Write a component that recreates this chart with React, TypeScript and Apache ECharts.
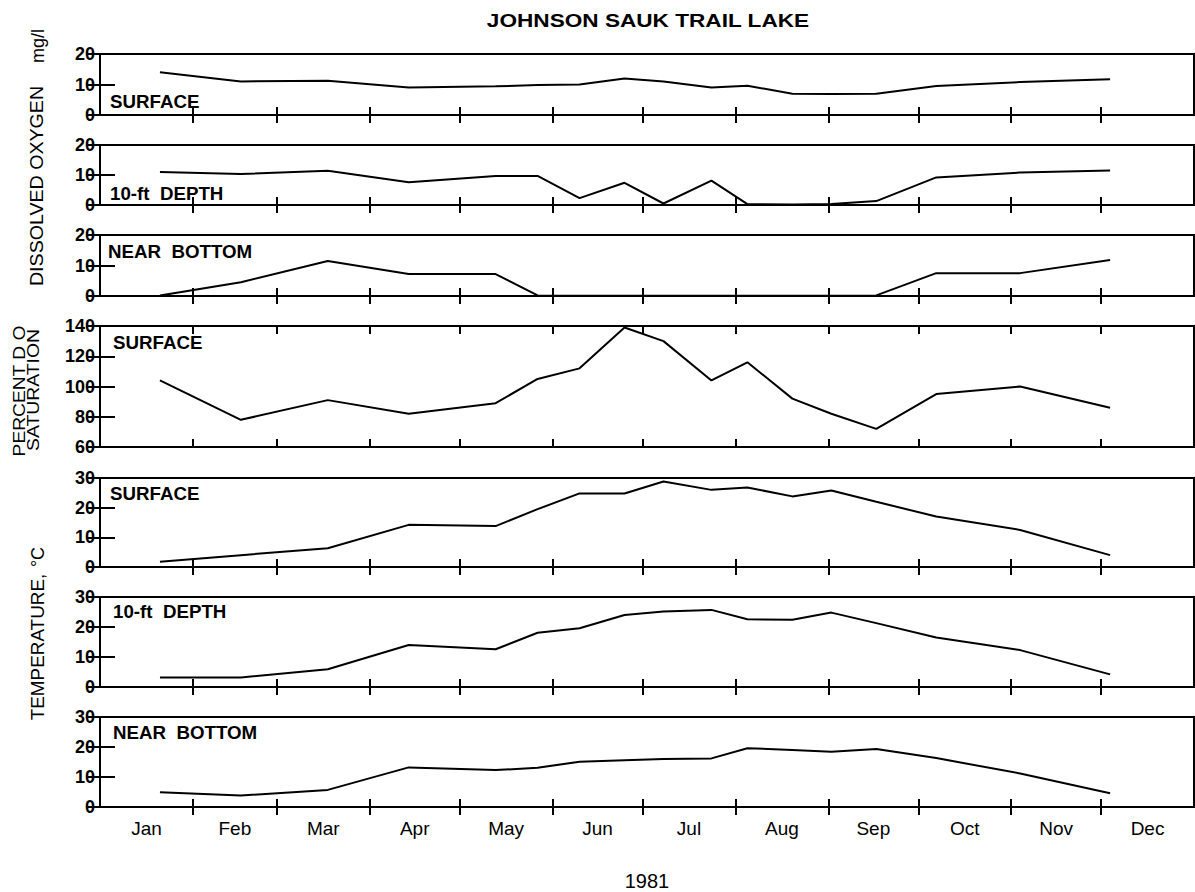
import React, { useEffect, useRef } from "react";
import * as echarts from "echarts";

// ---- Time axis (day of year, 1981) ----
const MONTHS = ["Jan", "Feb", "Mar", "Apr", "May", "Jun", "Jul", "Aug", "Sep", "Oct", "Nov", "Dec"];
const MONTH_START_DAYS = [31, 59, 90, 120, 151, 181, 212, 243, 273, 304, 334];
const MONTH_MID_DAYS = [15.5, 45, 74.5, 105, 135.5, 166, 196.5, 227.5, 258, 288.5, 319, 349.5];

// Sampling dates (day of year)
const SAMPLE_DAYS = [20, 47, 76, 103, 132, 146, 160, 175, 188, 204, 216, 231, 244, 259, 279, 307, 337];

// Dissolved oxygen, mg/l
const DO_SURFACE = [14, 11, 11.2, 9, 9.4, 9.8, 10, 12, 11, 9, 9.6, 7, 6.9, 7, 9.5, 10.8, 11.7];
const DO_10FT = [11, 10.3, 11.4, 7.6, 9.7, 9.7, 2.3, 7.4, 0.5, 8.1, 0.3, 0.2, 0.3, 1.3, 9.2, 10.8, 11.5];
const DO_BOTTOM = [0.2, 4.5, 11.5, 7.2, 7.2, 0.2, 0.1, 0.1, 0.1, 0.1, 0.1, 0.1, 0.1, 0.2, 7.5, 7.5, 11.8];

// Percent DO saturation, surface
const SAT_SURFACE = [104, 78, 91, 82, 89, 105, 112, 139, 130, 104, 116, 92, 82, 72, 95, 100, 86];

// Temperature, deg C
const TEMP_SURFACE = [1.8, 4, 6.3, 14.2, 13.8, 19.5, 24.8, 24.8, 28.8, 26, 26.8, 23.8, 25.8, 22, 17, 12.5, 4];
const TEMP_10FT = [3.2, 3.2, 5.9, 14, 12.6, 18.1, 19.6, 24, 25.2, 25.7, 22.6, 22.4, 24.8, 21.3, 16.5, 12.3, 4.2];
const TEMP_BOTTOM = [4.9, 3.8, 5.7, 13.2, 12.3, 13.1, 15.1, 15.6, 16, 16.2, 19.6, 19, 18.4, 19.3, 16.3, 11.2, 4.6];

const FONT = "'Liberation Sans', Arial, Helvetica, sans-serif";

type Panel = {
  label: string;
  values: number[];
  min: number;
  max: number;
  interval: number;
  top: number;
  height: number;
  labelX: number;
  labelY: number;
};

const PANELS: Panel[] = [
  { label: "SURFACE", values: DO_SURFACE, min: 0, max: 20, interval: 10, top: 54, height: 61, labelX: 110, labelY: 102 },
  { label: "10-ft  DEPTH", values: DO_10FT, min: 0, max: 20, interval: 10, top: 145, height: 60, labelX: 110, labelY: 194 },
  { label: "NEAR  BOTTOM", values: DO_BOTTOM, min: 0, max: 20, interval: 10, top: 235, height: 61, labelX: 108, labelY: 252 },
  { label: "SURFACE", values: SAT_SURFACE, min: 60, max: 140, interval: 20, top: 326, height: 121, labelX: 113, labelY: 343 },
  { label: "SURFACE", values: TEMP_SURFACE, min: 0, max: 30, interval: 10, top: 478, height: 89, labelX: 110, labelY: 494 },
  { label: "10-ft  DEPTH", values: TEMP_10FT, min: 0, max: 30, interval: 10, top: 597, height: 90, labelX: 113, labelY: 612 },
  { label: "NEAR  BOTTOM", values: TEMP_BOTTOM, min: 0, max: 30, interval: 10, top: 717, height: 90, labelX: 113, labelY: 733 },
];

function txt(
  text: string,
  x: number,
  y: number,
  fontSize: number,
  opts: { rotation?: number; scaleX?: number; align?: string; bold?: boolean } = {}
) {
  const align = opts.align || "center";
  return {
    type: "text",
    x,
    y,
    rotation: opts.rotation || 0,
    scaleX: opts.scaleX || 1,
    silent: true,
    style: {
      text,
      fontSize,
      fontFamily: FONT,
      fontWeight: opts.bold ? "bold" : "normal",
      fill: "#000",
      align,
      textAlign: align,
      verticalAlign: "middle",
      textVerticalAlign: "middle",
    },
  };
}

function buildOption() {
  const grids: any[] = [];
  const xAxes: any[] = [];
  const yAxes: any[] = [];
  const series: any[] = [];
  const last = PANELS.length - 1;

  const tickStyle = { color: "#000", width: 2 };

  PANELS.forEach((p, i) => {
    grids.push({
      left: 100,
      right: 1,
      top: p.top,
      height: p.height,
      show: true,
      borderColor: "#000",
      borderWidth: 2,
      backgroundColor: "transparent",
    });

    const baseX = {
      type: "value",
      gridIndex: i,
      min: 0,
      max: 365,
      axisLine: { show: false },
      splitLine: { show: false },
      axisTick: { show: true, inside: true, length: 8, customValues: MONTH_START_DAYS, lineStyle: tickStyle },
    };
    xAxes.push({
      ...baseX,
      position: "bottom",
      axisLabel:
        i === last
          ? {
              show: true,
              customValues: MONTH_MID_DAYS,
              formatter: (v: number) => MONTHS[MONTH_MID_DAYS.indexOf(v)] || "",
              fontSize: 19,
              fontFamily: FONT,
              color: "#000",
              margin: 12,
            }
          : { show: false },
    });
    xAxes.push({ ...baseX, position: "top", axisLabel: { show: false } });

    const baseY = {
      type: "value",
      gridIndex: i,
      min: p.min,
      max: p.max,
      interval: p.interval,
      axisLine: { show: false },
      splitLine: { show: false },
    };
    yAxes.push({
      ...baseY,
      position: "left",
      axisTick: { show: true, inside: true, length: 15, lineStyle: tickStyle },
      axisLabel: { show: true, fontSize: 18, fontFamily: FONT, fontWeight: "bold", color: "#000", margin: 5 },
    });
    yAxes.push({
      ...baseY,
      position: "right",
      axisTick: { show: true, inside: true, length: 12, lineStyle: tickStyle },
      axisLabel: { show: false },
    });

    series.push({
      type: "line",
      xAxisIndex: 2 * i,
      yAxisIndex: 2 * i,
      data: SAMPLE_DAYS.map((d, k) => [d, p.values[k]]),
      showSymbol: false,
      symbol: "none",
      silent: true,
      lineStyle: { color: "#000", width: 2 },
    });
  });

  const graphics: any[] = [
    txt("JOHNSON SAUK TRAIL LAKE", 648, 20, 19, { scaleX: 1.19, bold: true }),
    txt("1981", 647, 881, 20),
    // vertical axis titles
    txt("DISSOLVED OXYGEN", 37, 186, 18, { rotation: Math.PI / 2, scaleX: 1.09 }),
    txt("mg/l", 38, 46, 18, { rotation: Math.PI / 2 }),
    txt("PERCENT D O", 19, 391, 17, { rotation: Math.PI / 2, scaleX: 1.13 }),
    txt("SATURATION", 33, 390, 17, { rotation: Math.PI / 2, scaleX: 1.14 }),
    txt("TEMPERATURE,", 38, 647, 18, { rotation: Math.PI / 2, scaleX: 1.05 }),
    txt("\u00B0C", 38, 557, 18, { rotation: Math.PI / 2 }),
  ];
  PANELS.forEach((p) => {
    graphics.push(txt(p.label, p.labelX, p.labelY, 18, { align: "left", scaleX: 1.04, bold: true }));
  });

  return {
    animation: false,
    backgroundColor: "#fff",
    grid: grids,
    xAxis: xAxes,
    yAxis: yAxes,
    series,
    graphic: { elements: graphics },
  };
}

export default function App() {
  const ref = useRef<HTMLDivElement>(null);
  useEffect(() => {
    if (!ref.current) return;
    const chart = echarts.init(ref.current, undefined, { renderer: "svg" });
    chart.setOption(buildOption() as any);
    return () => chart.dispose();
  }, []);
  return (
    <div
      ref={ref}
      style={{ position: "absolute", left: 0, top: 0, width: 1195, height: 892, background: "#fff" }}
    />
  );
}
